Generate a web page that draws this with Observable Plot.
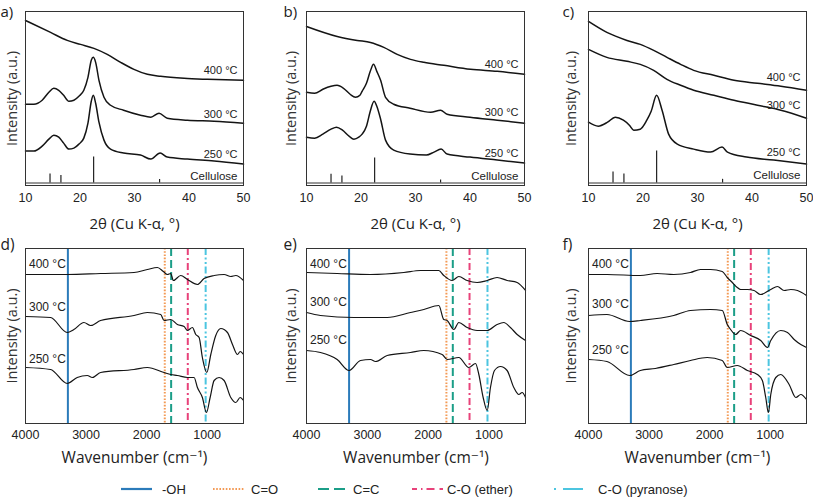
<!DOCTYPE html>
<html><head><meta charset="utf-8">
<script src="https://cdn.jsdelivr.net/npm/d3@7"></script>
<script src="https://cdn.jsdelivr.net/npm/@observablehq/plot@0.6"></script>
<style>
html,body{margin:0;padding:0;background:#fff;}
#fig{position:relative;width:813px;height:499px;overflow:hidden;background:#fff;}
#fig > svg{position:absolute;overflow:visible;}
</style></head><body><div id="fig"></div>
<script>
// ---------- shared labels / ticks ----------
const temps = ["400 °C", "300 °C", "250 °C"];
const xrdTicks = [10, 20, 30, 40, 50];
const ftirTicks = [4000, 3000, 2000, 1000];
const celluloseAngles = [14.5, 16.5, 22.5, 34.6];

// ---------- XRD (a) ----------
const xrdA400 = [[10,163],[14.6,151],[17.66,143],[20.1,139],[22.56,135],[25.0,129],[27.46,121],[29.9,114],[32.36,109],[34.8,107],[39.1,105],[43.4,104],[50,103]];
const xrdA300 = [[10,79],[11.53,79],[13.06,83],[14.29,91],[15.2,95],[16.1,93],[17.0,88],[17.96,82],[18.88,83],[19.8,87],[20.7,93],[21.46,106],[22.07,123],[22.44,126],[22.87,121],[23.48,103],[24.4,86],[25.6,78],[28,73],[31.1,68],[33,66],[34.5,70],[36,65],[39.7,63],[44.6,62],[50,60]];
const xrdA250 = [[10,32],[11.53,32],[13.06,37],[14.29,44],[15.2,48],[16.1,46],[17.0,40],[17.96,34],[18.88,35],[19.8,39],[20.7,45],[21.46,60],[22.07,82],[22.44,88],[22.87,80],[23.48,61],[24.4,43],[25.6,34],[28,30],[31.1,28],[33,24],[34.7,30],[36,26],[39.7,24],[44.6,22],[50,19]];
const xrdALabelY = [113, 69, 29];
const celluloseStickA = [9, 7.5, 26, 3.5];

// ---------- XRD (b) ----------
const xrdB400 = [[10,157],[15.63,147],[19.3,143],[21.74,141],[24.19,136],[26.64,129],[29.08,124],[31.53,121],[35.2,118],[40.09,114],[44.98,112],[50,109]];
const xrdB300 = [[10,91],[11.5,90],[13,94],[14.5,97],[15.6,98],[16.8,95],[18,89],[19,86],[19.8,88],[20.2,92],[21,100],[21.7,112],[22.3,119],[22.9,112],[23.6,103],[24.5,86],[26,79],[29,75],[32.8,71],[34.6,73],[35.8,69],[40,66],[45,63],[50,60]];
const xrdB250 = [[10,46],[11.5,45],[13,49],[14.5,54],[15.5,56],[16.6,53],[17.8,47],[18.7,44],[19.6,46],[20.2,49],[21,57],[21.7,72],[22.4,82],[22.9,77],[23.6,64],[24.5,43],[26,33],[29,29],[32,28],[33.4,31],[34.7,34],[35.8,29],[40,26],[45,23],[50,20]];
const xrdBLabelY = [119, 71, 30];
const celluloseStickB = [8.7, 7, 25, 3];

// ---------- XRD (c) ----------
const xrdC400 = [[10,162],[13.37,151],[17.06,143],[19.5,139],[21.96,133],[24.4,126],[26.9,119],[29.3,113],[33.0,108],[36.7,103],[41.0,100],[45.3,97],[50,93]];
const xrdC300 = [[10,134],[13.37,126],[17.06,122],[19.5,119],[21.96,113],[24.4,104],[26.9,98],[29.3,93],[33.0,88],[36.7,83],[41.0,78],[45.3,73],[50,65]];
const xrdC250 = [[10,61],[11.8,57],[13.5,61],[14.9,66],[16.4,63],[17.5,58],[18.3,53],[19.5,54],[20.7,63],[21.5,72],[22.5,88],[23.5,73],[24.7,49],[26.3,39],[29.3,34],[32.4,31],[34.5,36],[35.5,31],[39,26],[44,23],[50,19]];
const xrdCLabelY = [106, 78, 31];
const celluloseStickC = [11, 9, 32, 3.7];
const celluloseLabelY = [7, 7, 8];

// ---------- FTIR bands ----------
const bandNames = ["-OH", "C=O", "C=C", "C-O (ether)", "C-O (pyranose)"];
const bandWavenumbers = [3300, 1700, 1595, 1320, 1025];

// ---------- FTIR (d) ----------
const ftirD400 = [[4000,149],[3311,149],[2760,150],[2208,151],[1988,154],[1822,156],[1723,152],[1657,149],[1602,150],[1558,143],[1437,148],[1326,144],[1161,139],[1051,145],[885,148],[720,149],[610,147],[527,148],[400,143]];
const ftirD300 = [[4000,107],[3587,106],[3311,91],[3201,94],[3035,101],[2925,98],[2760,103],[2208,108],[1988,111],[1767,109],[1712,103],[1602,104],[1492,99],[1381,97],[1326,93],[1244,96],[1188,89],[1133,86],[1079,66],[1006,51],[940,69],[858,88],[775,95],[665,91],[582,79],[499,69],[455,72],[400,69]];
const ftirD250 = [[4000,56],[3587,54],[3311,40],[3146,46],[2980,48],[2897,46],[2760,51],[2208,54],[1988,56],[1712,51],[1602,49],[1492,48],[1326,46],[1216,46],[1161,36],[1079,26],[1012,11],[951,26],[885,43],[803,46],[720,43],[610,26],[527,21],[455,26],[400,23]];
const ftirDLabelY = [159, 116, 64];

// ---------- FTIR (e) ----------
const ftirE400 = [[4000,151],[3496,150],[2948,149],[2400,151],[2126,153],[1825,153],[1743,148],[1606,143],[1496,147],[1359,143],[1195,141],[1030,143],[867,146],[702,143],[537,141],[400,133]];
const ftirE300 = [[4000,111],[3770,108],[3222,106],[2674,106],[2291,111],[2071,114],[1825,118],[1743,104],[1688,103],[1578,94],[1496,101],[1359,96],[1195,93],[1030,93],[867,99],[757,101],[648,96],[537,89],[400,83]];
const ftirE250 = [[4000,73],[3770,71],[3496,64],[3299,53],[3112,63],[2948,64],[2866,62],[2674,68],[2291,71],[2071,73],[1770,69],[1688,64],[1496,66],[1332,56],[1222,60],[1167,49],[1096,26],[1030,13],[976,36],[910,53],[812,57],[702,53],[592,36],[510,29],[455,31],[400,26]];
const ftirELabelY = [159, 121, 83];

// ---------- FTIR (f) ----------
const ftirF400 = [[4000,149],[3696,149],[3144,148],[2868,150],[2592,149],[2316,151],[2150,154],[1984,154],[1791,152],[1708,146],[1625,141],[1543,136],[1488,134],[1377,134],[1267,133],[1156,129],[990,134],[880,137],[770,133],[659,134],[549,133],[400,128]];
const ftirF300 = [[4000,108],[3696,109],[3321,102],[3144,103],[2592,108],[2316,113],[1984,114],[1791,113],[1708,99],[1653,94],[1570,89],[1488,93],[1322,88],[1156,83],[1045,76],[990,83],[825,93],[714,91],[604,84],[494,79],[400,76]];
const ftirF250 = [[4000,64],[3696,62],[3321,48],[3144,53],[2896,55],[2592,59],[2316,63],[2040,66],[1791,63],[1708,56],[1543,58],[1377,53],[1211,49],[1129,43],[1073,26],[1029,11],[990,29],[907,46],[825,49],[687,39],[576,26],[494,29],[400,24]];
const ftirFLabelY = [159, 119, 73];

// ---------- styles (not data) ----------
const bandColors = ["#2b7bba", "#f39a55", "#1b9e88", "#e8427a", "#4cc5e0"];
const bandDash = [null, "1.6,1.6", "8,4", "7,3,2,3", "7,2.5,2,2.5,2,2.5"];
const legendDash = [null, "1.6,1.6", "11,5", "5,4,1.5,4,8", "2,7,20"];
const titleFont = "'Open Sans', 'DejaVu Sans', sans-serif";
const tickFont = "'Liberation Sans', Arial, sans-serif";

const fig = document.getElementById("fig");
const colW = 271;

function place(svg, left, top) {
  svg.style.left = left + "px";
  svg.style.top = top + "px";
  fig.appendChild(svg);
}

function xrdPanel(o) {
  const height = 240, top = 0, mt = 11, frameBottom = 185;
  const ml = o.frameLeft - o.left, mr = o.left + colW - o.frameRight;
  const sticks = celluloseAngles.map((a, i) => ({a, h: o.sticks[i]}));
  const svg = Plot.plot({
    width: colW, height,
    marginLeft: ml, marginRight: mr, marginTop: mt, marginBottom: height - frameBottom,
    style: {fontFamily: tickFont, fontSize: "12.5px", color: "#222", background: "transparent", overflow: "visible"},
    x: {domain: [10, 50], ticks: xrdTicks, tickSize: 0, tickPadding: 8, tickFormat: d => String(d), label: null},
    y: {domain: [-2.5, 172], axis: null},
    marks: [
      Plot.ruleY([0], {stroke: "#333", strokeWidth: 1}),
      Plot.ruleX(sticks, {x: "a", y1: 0, y2: "h", stroke: "#222", strokeWidth: 1.2}),
      ...o.series.map(s => Plot.line(s, {stroke: "#141414", strokeWidth: 1.5, curve: "monotone-x"})),
      Plot.text(temps, {x: 50, y: (d, i) => o.labelY[i], text: d => d, textAnchor: "end", dx: -6, fontSize: 11, fill: "#222", fontFamily: tickFont}),
      Plot.text(["Cellulose"], {x: 50, y: o.celluloseY, text: d => d, textAnchor: "end", dx: -6, fontSize: 11.5, fill: "#222", fontFamily: tickFont}),
      Plot.frame({stroke: "#333", strokeWidth: 1}),
      Plot.text(["2θ (Cu K-α, °)"], {frameAnchor: "bottom", textAnchor: "middle", lineAnchor: "middle", dy: 39, text: d => d, fontFamily: titleFont, fontSize: 15, fill: "#222"}),
      Plot.text(["Intensity (a.u.)"], {frameAnchor: "left", textAnchor: "middle", lineAnchor: "middle", rotate: -90, dx: o.ylabX - o.frameLeft, text: d => d, fontFamily: titleFont, fontSize: 14.5, fill: "#333"}),
      Plot.text([o.letter], {frameAnchor: "top-left", textAnchor: "start", lineAnchor: "middle", dx: o.letterX - o.frameLeft, dy: 12 - mt, text: d => d, fontFamily: titleFont, fontSize: 15, fill: "#222"})
    ]
  });
  place(svg, o.left, top);
}

function ftirPanel(o) {
  const top = 232, height = 240, mt = 16, frameBottom = 423 - top;
  const ml = o.frameLeft - o.left, mr = o.left + colW - o.frameRight;
  const svg = Plot.plot({
    width: colW, height,
    marginLeft: ml, marginRight: mr, marginTop: mt, marginBottom: height - frameBottom,
    style: {fontFamily: tickFont, fontSize: "12.5px", color: "#222", background: "transparent", overflow: "visible"},
    x: {domain: [4000, 400], ticks: ftirTicks, tickSize: 0, tickPadding: 7, tickFormat: d => String(d), label: null},
    y: {domain: [0, 175], axis: null},
    marks: [
      ...bandWavenumbers.map((w, i) => Plot.ruleX([w], {stroke: bandColors[i], strokeWidth: 2, strokeDasharray: bandDash[i]})),
      ...o.series.map(s => Plot.line(s, {stroke: "#141414", strokeWidth: 1.2, curve: "monotone-x"})),
      Plot.text(temps, {x: 4000, y: (d, i) => o.labelY[i], text: d => d, textAnchor: "start", dx: 3.5, fontSize: 12, fill: "#222", fontFamily: tickFont}),
      Plot.frame({stroke: "#333", strokeWidth: 1}),
      Plot.text(["Wavenumber (cm⁻¹)"], {frameAnchor: "bottom", textAnchor: "middle", lineAnchor: "middle", dy: 35, text: d => d, fontFamily: titleFont, fontSize: 15.5, fill: "#222"}),
      Plot.text(["Intensity (a.u.)"], {frameAnchor: "left", textAnchor: "middle", lineAnchor: "middle", rotate: -90, dx: o.ylabX - o.frameLeft, text: d => d, fontFamily: titleFont, fontSize: 14.5, fill: "#333"}),
      Plot.text([o.letter], {frameAnchor: "top-left", textAnchor: "start", lineAnchor: "middle", dx: o.letterX - o.frameLeft, dy: 245 - top - mt, text: d => d, fontFamily: titleFont, fontSize: 15.5, fill: "#222"})
    ]
  });
  place(svg, o.left, top);
}

xrdPanel({left: 0, frameLeft: 25, frameRight: 243, series: [xrdA400, xrdA300, xrdA250], labelY: xrdALabelY, celluloseY: celluloseLabelY[0], sticks: celluloseStickA, letter: "a)", letterX: 0, ylabX: 12});
xrdPanel({left: 271, frameLeft: 306, frameRight: 524, series: [xrdB400, xrdB300, xrdB250], labelY: xrdBLabelY, celluloseY: celluloseLabelY[1], sticks: celluloseStickB, letter: "b)", letterX: 283, ylabX: 291});
xrdPanel({left: 542, frameLeft: 588, frameRight: 806, series: [xrdC400, xrdC300, xrdC250], labelY: xrdCLabelY, celluloseY: celluloseLabelY[2], sticks: celluloseStickC, letter: "c)", letterX: 562, ylabX: 571});

ftirPanel({left: 0, frameLeft: 25, frameRight: 243, series: [ftirD400, ftirD300, ftirD250], labelY: ftirDLabelY, letter: "d)", letterX: 0, ylabX: 12});
ftirPanel({left: 271, frameLeft: 306, frameRight: 525, series: [ftirE400, ftirE300, ftirE250], labelY: ftirELabelY, letter: "e)", letterX: 283, ylabX: 291});
ftirPanel({left: 542, frameLeft: 588, frameRight: 806, series: [ftirF400, ftirF300, ftirF250], labelY: ftirFLabelY, letter: "f)", letterX: 562, ylabX: 571});

// ---------- legend ----------
const legendLineX = [121, 213, 318, 412, 554];
const legendTextX = [162, 251, 353, 447, 598];
const leg = d3.create("svg").attr("width", 813).attr("height", 20)
  .style("position", "absolute").style("left", "0px").style("top", "479px");
bandNames.forEach((name, i) => {
  leg.append("line").attr("x1", legendLineX[i]).attr("x2", legendLineX[i] + 31)
    .attr("y1", 10).attr("y2", 10).attr("stroke", bandColors[i]).attr("stroke-width", 2.2)
    .attr("stroke-dasharray", legendDash[i]);
  leg.append("text").attr("x", legendTextX[i]).attr("y", 10).attr("dy", "0.35em")
    .attr("font-family", tickFont).attr("font-size", 13).attr("fill", "#222").text(name);
});
fig.appendChild(leg.node());
</script></body></html>
